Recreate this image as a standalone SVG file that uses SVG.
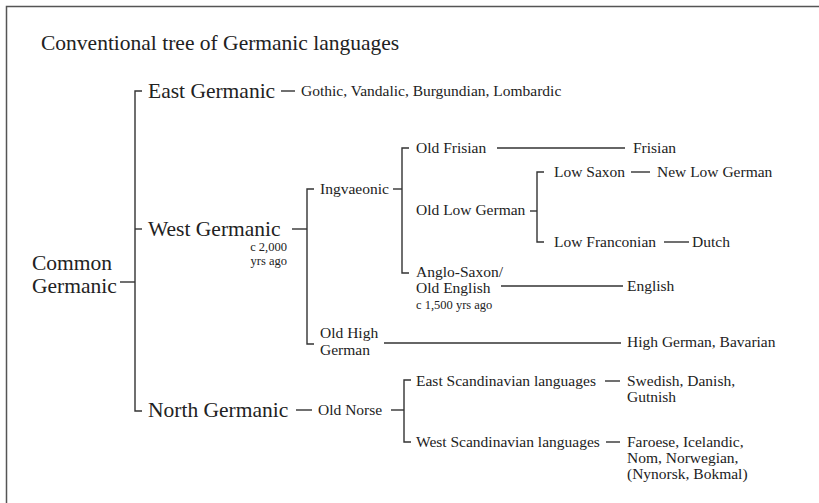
<svg xmlns="http://www.w3.org/2000/svg" width="819" height="503" viewBox="0 0 819 503">
<style>
text{font-family:"Liberation Serif","Times New Roman",serif;fill:#222}
.t{font-size:21.5px}
.l{font-size:21.5px}
.m{font-size:15.5px}
.s{font-size:12.5px}
.c line,.c path{stroke:#333;stroke-width:1.4;fill:none}
.frame{stroke:#555;stroke-width:1.5;fill:none}
</style>
<rect width="819" height="503" fill="#fff"/>
<path class="frame" d="M6.5,503 V6.5 H819"/>
<text id="title" class="t" x="41" y="50">Conventional tree of Germanic languages</text>

<g class="c" id="connectors">
<!-- root trunk -->
<line x1="120" y1="282" x2="135" y2="282"/>
<path d="M142,91 H135 V411 H142"/>
<line x1="135" y1="229" x2="142" y2="229"/>
<!-- east -->
<line x1="281" y1="91" x2="295" y2="91"/>
<!-- west -->
<line x1="292" y1="229" x2="307" y2="229"/>
<path d="M314,189 H307 V344 H314"/>
<!-- ingvaeonic -->
<line x1="393" y1="189" x2="402" y2="189"/>
<path d="M409,148 H402 V273 H409"/>
<line x1="497" y1="148" x2="625" y2="148"/>
<!-- old low german -->
<line x1="530" y1="211" x2="537" y2="211"/>
<path d="M544,172 H537 V242 H544"/>
<line x1="631" y1="172" x2="650" y2="172"/>
<line x1="664" y1="242" x2="689" y2="242"/>
<!-- anglo-saxon -->
<line x1="501" y1="286" x2="623" y2="286"/>
<!-- old high german -->
<line x1="384" y1="343" x2="621" y2="343"/>
<!-- north -->
<line x1="296" y1="410" x2="312" y2="410"/>
<line x1="391" y1="410" x2="404" y2="410"/>
<path d="M411,380 H404 V442 H411"/>
<line x1="605" y1="381" x2="620" y2="381"/>
<line x1="606" y1="442" x2="620" y2="442"/>
</g>

<g id="common"><text class="l" x="32" y="270">Common</text><text class="l" x="32" y="293">Germanic</text></g>
<g id="east"><text class="l" x="148" y="98">East Germanic</text></g>
<g id="east-langs"><text class="m" x="301" y="96">Gothic, Vandalic, Burgundian, Lombardic</text></g>
<g id="west"><text class="l" x="148" y="236">West Germanic</text>
<text class="s" x="287" y="251" text-anchor="end">c 2,000</text>
<text class="s" x="287" y="265" text-anchor="end">yrs ago</text></g>
<g id="ingvaeonic"><text class="m" x="320" y="194">Ingvaeonic</text></g>
<g id="old-frisian"><text class="m" x="416" y="153">Old Frisian</text></g>
<g id="frisian"><text class="m" x="633" y="153">Frisian</text></g>
<g id="old-low-german"><text class="m" x="416" y="215">Old Low German</text></g>
<g id="low-saxon"><text class="m" x="554" y="177">Low Saxon</text></g>
<g id="new-low-german"><text class="m" x="657" y="177">New Low German</text></g>
<g id="low-franconian"><text class="m" x="554" y="247">Low Franconian</text></g>
<g id="dutch"><text class="m" x="692" y="247">Dutch</text></g>
<g id="anglo-saxon"><text class="m" x="416" y="277">Anglo-Saxon/</text><text class="m" x="416" y="293">Old English</text><text class="s" x="416" y="309">c 1,500 yrs ago</text></g>
<g id="english"><text class="m" x="627" y="291">English</text></g>
<g id="old-high-german"><text class="m" x="320" y="338">Old High</text><text class="m" x="320" y="355">German</text></g>
<g id="high-german"><text class="m" x="627" y="347">High German, Bavarian</text></g>
<g id="north"><text class="l" x="148" y="417">North Germanic</text></g>
<g id="old-norse"><text class="m" x="318" y="415">Old Norse</text></g>
<g id="east-scand"><text class="m" x="416" y="386">East Scandinavian languages</text></g>
<g id="east-scand-langs"><text class="m" x="627" y="386">Swedish, Danish,</text><text class="m" x="627" y="402">Gutnish</text></g>
<g id="west-scand"><text class="m" x="416" y="447">West Scandinavian languages</text></g>
<g id="west-scand-langs"><text class="m" x="627" y="447">Faroese, Icelandic,</text><text class="m" x="627" y="463">Nom, Norwegian,</text><text class="m" x="627" y="479">(Nynorsk, Bokmal)</text></g>
</svg>
